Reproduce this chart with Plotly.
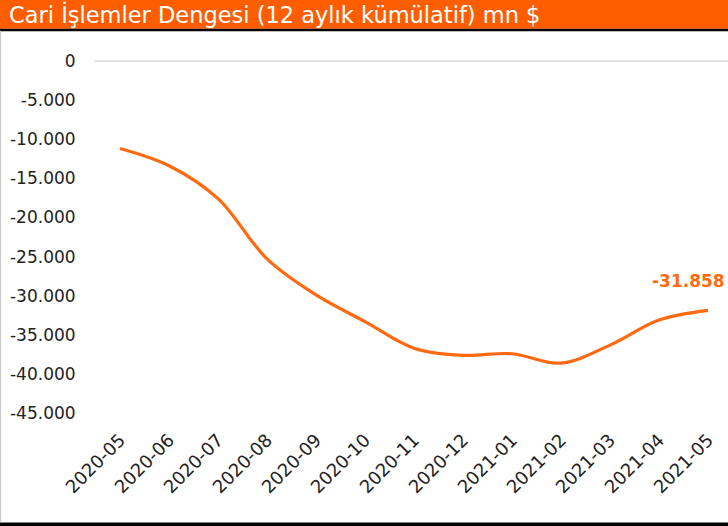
import plotly.graph_objects as go

months = ["2020-05", "2020-06", "2020-07", "2020-08", "2020-09", "2020-10", "2020-11",
          "2020-12", "2021-01", "2021-02", "2021-03", "2021-04", "2021-05"]
balance = [-11200, -13400, -17600, -25300, -29900, -33300, -36700,
           -37600, -37400, -38600, -36300, -33100, -31858]
ytick_vals = [0, -5000, -10000, -15000, -20000, -25000, -30000, -35000, -40000, -45000]
ytick_text = ["0" if v == 0 else f"{v:,}".replace(",", ".") for v in ytick_vals]
title_text = "Cari İşlemler Dengesi (12 aylık kümülatif) mn $"

ORANGE = "#FF5E00"
LINE = "#FF6A10"

W, H = 728, 526
Y_LO, Y_HI = -46500, 1500
K = 7.822  # px per 1000
ML, MR = 95, 0
MT = 61 - Y_HI / 1000 * K
ph = (Y_HI - Y_LO) / 1000 * K
MB = H - MT - ph

def py(p):  # pixel y from top -> paper y
    return 1 + (MT - p) / ph

def px(p):
    return (p - ML) / (W - ML - MR)

fig = go.Figure()
fig.add_trace(go.Scatter(
    x=list(range(len(months))), y=balance, mode="lines",
    line=dict(color=LINE, width=3.2, shape="spline", smoothing=1.0),
    hoverinfo="skip", showlegend=False,
))

fig.add_annotation(
    x=len(months) - 1, y=balance[-1], text=f"{balance[-1]:,}".replace(",", "."),
    showarrow=False, xanchor="right", yanchor="middle", xshift=19, yshift=29,
    font=dict(family="DejaVu Sans", size=17, color=LINE, weight="bold"),
)

shapes = [
    dict(type="rect", xref="paper", yref="paper", x0=px(0), x1=px(W), y0=py(0), y1=py(29),
         fillcolor=ORANGE, line=dict(width=0), layer="above"),
    dict(type="rect", xref="paper", yref="paper", x0=px(0), x1=px(W), y0=py(29), y1=py(31.5),
         fillcolor="black", line=dict(width=0), layer="above"),
    dict(type="rect", xref="paper", yref="paper", x0=px(0), x1=px(W), y0=py(522), y1=py(526),
         fillcolor="black", line=dict(width=0), layer="above"),
    dict(type="line", xref="paper", yref="paper", x0=px(0.5), x1=px(0.5), y0=py(31), y1=py(522),
         line=dict(color="#c8c8c8", width=1), layer="above"),
]

fig.add_annotation(
    xref="paper", yref="paper", x=px(7), y=py(15), xanchor="left", yanchor="middle",
    text=title_text, showarrow=False,
    font=dict(family="DejaVu Sans", size=22.5, color="white"),
)

fig.update_layout(
    width=W, height=H, margin=dict(l=ML, r=MR, t=MT, b=MB, autoexpand=False),
    paper_bgcolor="white", plot_bgcolor="white",
    shapes=shapes,
    xaxis=dict(
        tickmode="array", tickvals=list(range(len(months))), ticktext=months,
        range=[-25 / 49, 12 + 20 / 49], tickangle=-45, showgrid=False, zeroline=False,
        showline=False, ticks="", automargin=False,
        tickfont=dict(family="DejaVu Sans", size=18, color="#222222"),
    ),
    yaxis=dict(
        tickmode="array", tickvals=ytick_vals, ticktext=ytick_text,
        range=[Y_LO, Y_HI], showgrid=False, zeroline=True, zerolinecolor="#e3e3e3",
        zerolinewidth=2, showline=False, ticks="outside", ticklen=15,
        tickcolor="rgba(0,0,0,0)", automargin=False,
        tickfont=dict(family="DejaVu Sans", size=17, color="#222222"),
    ),
)

fig.write_html(
    "out.html",
    config={"displayModeBar": False},
    post_script="document.body.style.margin='0';document.body.style.padding='0';",
)
